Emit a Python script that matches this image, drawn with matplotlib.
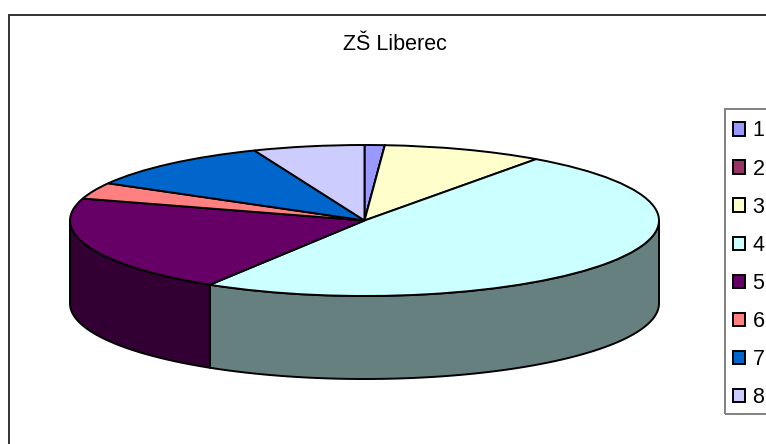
import matplotlib
matplotlib.use('Agg')
import matplotlib.pyplot as plt
from matplotlib.patches import Rectangle
import numpy as np

title = 'ZŠ Liberec'
labels = ['1', '2', '3', '4', '5', '6', '7', '8']
values = [1.1, 0, 8.8, 48.9, 20.9, 3.5, 10.7, 6.1]
colors = ['#9999FF', '#993366', '#FFFFCC', '#CCFFFF', '#660066', '#FF8080', '#0066CC', '#CCCCFF']
side_colors = ['#4C4C80', '#4C1A33', '#808066', '#668080', '#330033', '#804040', '#003366', '#666680']

plt.rcParams['font.family'] = ['Liberation Sans', 'DejaVu Sans']

W, H = 766, 444
cx, cy = 364.5, 220.5     # pie centre in pixels from the top left
rx, ry = 294.5, 75.5
depth = 83 / ry
lw = 1.4

fig = plt.figure(figsize=(W / 100, H / 100), dpi=100)
ax = fig.add_axes([0, 0, 1, 1])

# outer chart border, runs off the right and bottom edge
fig.add_artist(Rectangle((9 / W, -0.1), 1.1, 1.1 - 15 / H, transform=fig.transFigure,
                         facecolor='none', edgecolor='#333333', linewidth=1.4))

# legend border, also runs off the right edge
fig.add_artist(Rectangle((725 / W, 1 - 414 / H), 0.2, (414 - 109) / H, transform=fig.transFigure,
                         facecolor='none', edgecolor='#808080', linewidth=1.4))

# side wall, only the front half of the ellipse can be seen
edges = np.cumsum([0] + values) / sum(values) * 360
for i in range(len(values)):
    t0 = max(edges[i], 90)
    t1 = min(edges[i + 1], 270)
    if t1 <= t0:
        continue
    t = np.radians(np.linspace(t0, t1, 80))
    xs = np.concatenate([np.sin(t), np.sin(t[::-1])])
    ys = np.concatenate([np.cos(t), np.cos(t[::-1]) - depth])
    ax.fill(xs, ys, facecolor=side_colors[i], edgecolor='black', linewidth=lw, joinstyle='round')

wedges, _ = ax.pie(values, colors=colors, startangle=90, counterclock=False,
                   wedgeprops={'edgecolor': 'black', 'linewidth': lw})

ax.set_aspect('auto')
ax.set_xlim(-cx / rx, (W - cx) / rx)
ax.set_ylim(-(H - cy) / ry, cy / ry)
ax.axis('off')

fig.text(395 / W, 1 - 49.5 / H, title, ha='center', va='baseline', fontsize=15.5, color='black')

leg = ax.legend(wedges, labels, loc='upper left', bbox_to_anchor=(733 / W, 1 - 120.5 / H),
                bbox_transform=fig.transFigure, borderaxespad=0, borderpad=0, frameon=False,
                fontsize=15.5, handlelength=0.58, handleheight=0.58, handletextpad=0.32,
                labelspacing=0.795)
for h in leg.get_patches():
    h.set_edgecolor('black')
    h.set_linewidth(1.4)

fig.savefig('out.png', dpi=100)
